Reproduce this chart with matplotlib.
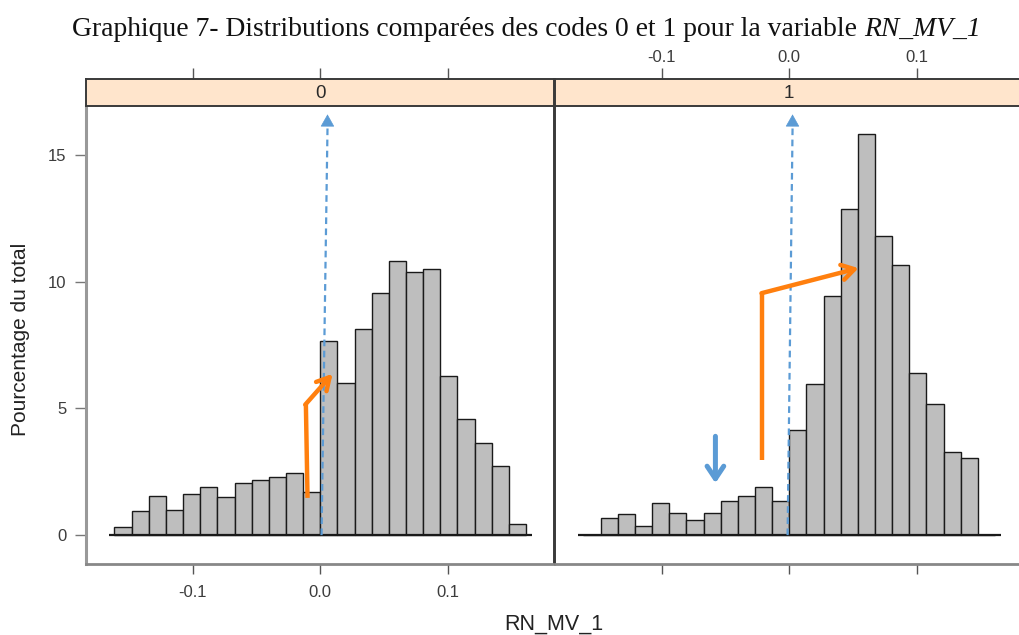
import numpy as np
import matplotlib
matplotlib.use("Agg")
import matplotlib.pyplot as plt

# Histogram data: percent of total per bin, shared bin breaks for both panels
bin_width = 0.01347
n_bins = 24
pct_code0 = [0.32, 0.97, 1.54, 0.99, 1.63, 1.91, 1.49, 2.06, 2.16, 2.30, 2.45, 1.70,
             7.68, 5.99, 8.12, 9.54, 10.84, 10.40, 10.51, 6.28, 4.58, 3.62, 2.74, 0.45]
pct_code1 = [0.0, 0.66, 0.83, 0.37, 1.26, 0.89, 0.58, 0.89, 1.33, 1.55, 1.89, 1.33,
             4.16, 5.97, 9.45, 12.87, 15.84, 11.79, 10.68, 6.41, 5.16, 3.30, 3.05, 0.0]
panel_labels = ["0", "1"]
x_ticks = [-0.1, 0.0, 0.1]
x_ticklabels = ["-0.1", "0.0", "0.1"]
y_ticks = [0, 5, 10, 15]

edges = (np.arange(n_bins) - n_bins / 2) * bin_width
xlim = (-0.1840, 0.1836)
ylim = (-1.14, 16.94)

W, H = 1019, 635
fig = plt.figure(figsize=(W / 100, H / 100), dpi=100)

sans = ["Liberation Sans", "DejaVu Sans"]
serif = ["Liberation Serif", "DejaVu Serif"]
tick_col = "#3c3c3c"
frame_col = "#3a3a3a"
tick_fs = 12

def fx(px):
    return px / W

def fy(py):
    return 1 - py / H

panel_left = [86, 555]
panel_w = 468
top_px, bot_px, strip_top = 106, 564, 79

axes = []
for i, (data, lab) in enumerate(zip([pct_code0, pct_code1], panel_labels)):
    ax = fig.add_axes([fx(panel_left[i]), fy(bot_px), fx(panel_w), (bot_px - top_px) / H])
    ax.bar(edges, data, width=bin_width, align="edge", color="#BEBEBE",
           edgecolor="#1a1a1a", linewidth=1.0, zorder=2)
    ax.hlines(0, -0.166, 0.166, color="#1a1a1a", linewidth=1.6, zorder=3)
    ax.set_xlim(*xlim)
    ax.set_ylim(*ylim)
    for s in ax.spines.values():
        s.set_color(frame_col)
        s.set_linewidth(1.4)
    ax.spines["top"].set_visible(False)
    ax.spines["bottom"].set_color("#888888")
    ax.spines["bottom"].set_linewidth(2.0)
    ax.set_xticks(x_ticks)
    ax.tick_params(axis="x", direction="out", length=7, width=1.0, color="#555555",
                   labelsize=tick_fs, labelcolor=tick_col, pad=8)
    if i == 0:
        ax.set_xticklabels(x_ticklabels, fontfamily=sans)
        ax.set_yticks(y_ticks)
        ax.set_yticklabels([str(v) for v in y_ticks], fontfamily=sans)
        ax.tick_params(axis="y", direction="out", length=8, width=1.0, color="#777777",
                       labelsize=tick_fs, labelcolor=tick_col, pad=6)
        ax.spines["left"].set_color("#999999")
        ax.spines["left"].set_linewidth(2.2)
    else:
        ax.set_xticklabels([])
        ax.set_yticks([])
    axes.append(ax)

    # strip carrying the panel label
    sax = fig.add_axes([fx(panel_left[i]), fy(top_px), fx(panel_w), (top_px - strip_top) / H])
    sax.set_facecolor("#FFE5CC")
    sax.set_xlim(*xlim)
    sax.set_ylim(0, 1)
    sax.set_yticks([])
    sax.xaxis.set_ticks_position("top")
    sax.set_xticks(x_ticks)
    sax.tick_params(axis="x", direction="out", length=8, width=1.0, color="#555555",
                    labelsize=tick_fs, labelcolor=tick_col, pad=2)
    if i == 1:
        sax.set_xticklabels(x_ticklabels, fontfamily=sans)
    else:
        sax.set_xticklabels([])
    for s in sax.spines.values():
        s.set_color(frame_col)
        s.set_linewidth(1.4)
    sax.text(0, 0.47, lab, ha="center", va="center", fontsize=13.5,
             fontfamily=sans, color="#2a2a2a")

ax0, ax1 = axes
blue = "#5B9BD5"
orange = "#FF7F0E"

# dashed reference line at zero with arrowhead
for ax, (xb, xt) in zip(axes, [(0.001, 0.0057), (-0.0013, 0.0026)]):
    ax.plot([xb, xt], [0, 16.1], color=blue, linestyle=(0, (3, 2)), linewidth=1.6, zorder=4)
    ax.annotate("", xy=(xt, 16.72), xytext=(xt - 0.00005, 16.05),
                arrowprops=dict(arrowstyle="-|>,head_length=0.8,head_width=0.45",
                                color=blue, lw=0.5), zorder=5)

# shift arrows
ax0.plot([-0.0100, -0.0113], [1.47, 5.18], color=orange, linewidth=3.2,
         solid_capstyle="butt", zorder=6)
ax0.annotate("", xy=(0.0097, 6.37), xytext=(-0.0118, 5.15),
             arrowprops=dict(arrowstyle="->,head_length=0.9,head_width=0.5",
                             color=orange, lw=3.2, shrinkA=0, shrinkB=0), zorder=6)
ax1.plot([-0.0212, -0.0212], [2.97, 9.55], color=orange, linewidth=3.2,
         solid_capstyle="butt", zorder=6)
ax1.annotate("", xy=(0.0544, 10.54), xytext=(-0.0218, 9.55),
             arrowprops=dict(arrowstyle="->,head_length=0.9,head_width=0.55",
                             color=orange, lw=3.2, shrinkA=0, shrinkB=0), zorder=6)
ax1.annotate("", xy=(-0.058, 2.05), xytext=(-0.058, 3.9),
             arrowprops=dict(arrowstyle="->,head_length=0.9,head_width=0.6",
                             color=blue, lw=3.6, shrinkA=0, shrinkB=0), zorder=6)

# title: upright part followed by the italic variable name, fitted to its line
title_main = "Graphique 7- Distributions comparées des codes 0 et 1 pour la variable "
title_var = "RN_MV_1"
title_fs = 16.0
t1 = fig.text(0, fy(36), title_main, ha="left", va="baseline", fontsize=title_fs,
              fontfamily=serif, color="#111111")
t2 = fig.text(0, fy(36), title_var, ha="left", va="baseline", fontsize=title_fs,
              fontfamily=serif, fontstyle="italic", color="#111111")
renderer = fig.canvas.get_renderer()
w_total = t1.get_window_extent(renderer).width + t2.get_window_extent(renderer).width
scale = 910.0 / w_total
t1.set_fontsize(title_fs * scale)
t2.set_fontsize(title_fs * scale)
w1 = t1.get_window_extent(renderer).width
t1.set_x(fx(72))
t2.set_x(fx(72 + w1))

fig.text(fx(21), fy(339), "Pourcentage du total", rotation=90, ha="center", va="center",
         fontsize=15, fontfamily=sans, color="#222222")
fig.text(fx(554), fy(624), "RN_MV_1", ha="center", va="center",
         fontsize=15.5, fontfamily=sans, color="#222222")

fig.savefig("out.png", dpi=100)
